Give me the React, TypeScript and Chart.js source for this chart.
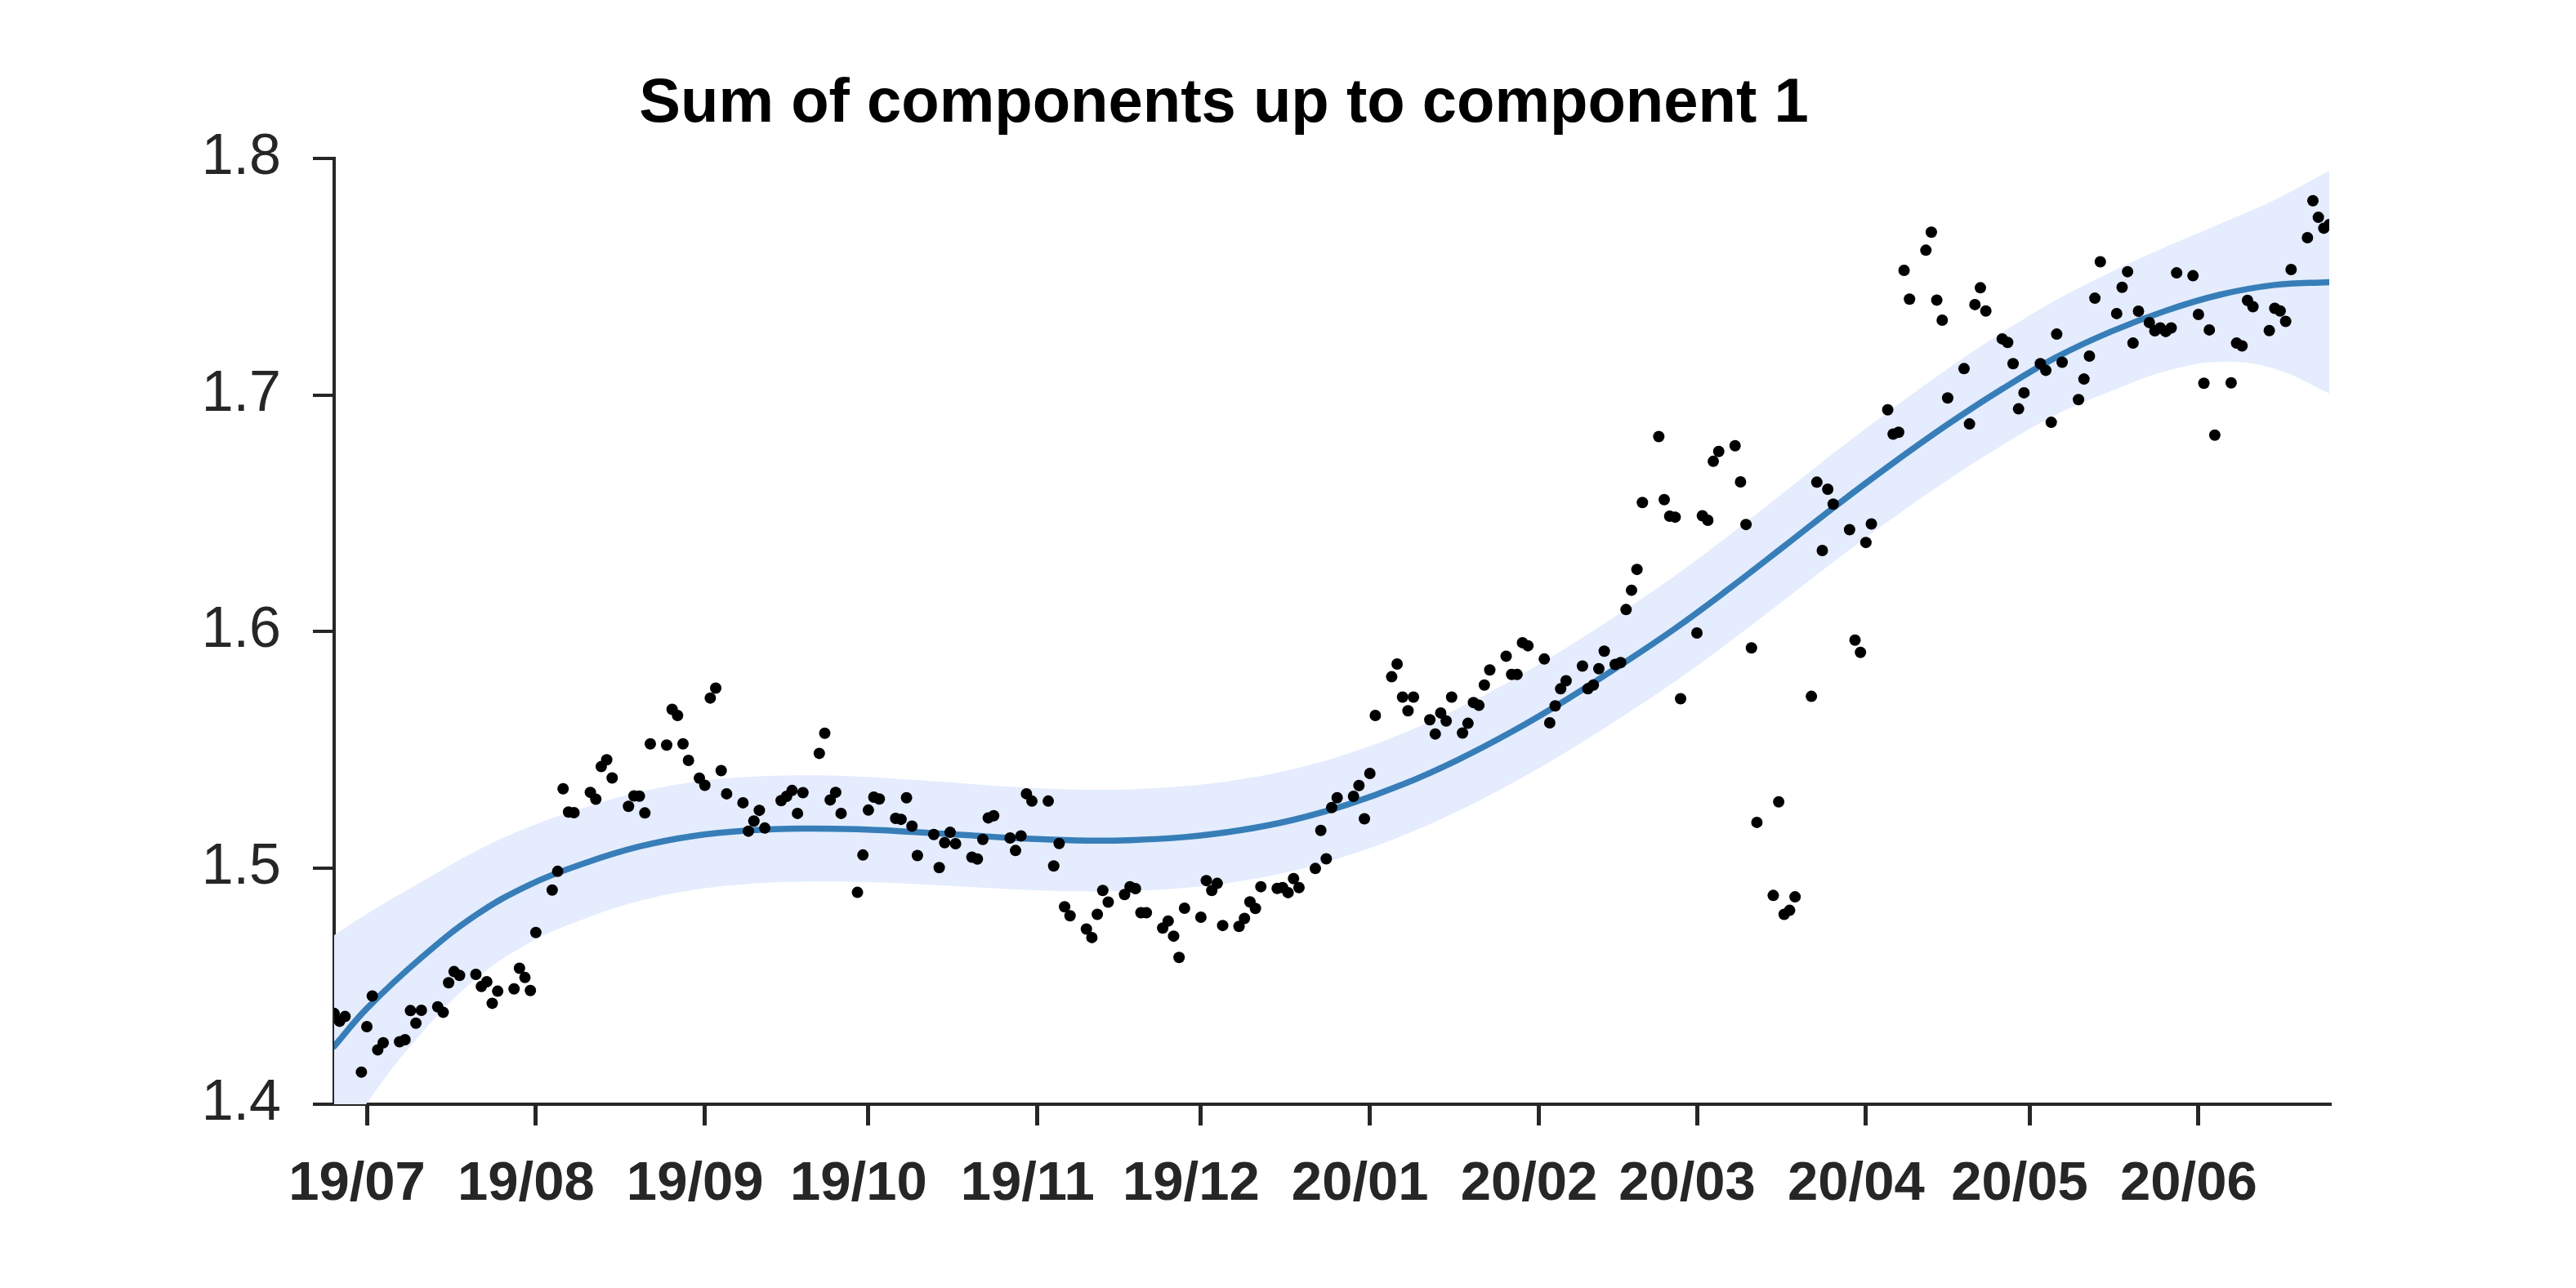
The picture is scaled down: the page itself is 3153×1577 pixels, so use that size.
import React, { useEffect, useRef } from 'react';
import { Chart, registerables } from 'chart.js';

Chart.register(...registerables);

// Day offsets are counted from 2019-07-01 (offset 0).
const START_DATE = '2019-07-01';

const observedDays = [
  -6, -5, -4, -1, 0, 1, 2, 3, 6, 7, 8, 9, 10, 13, 14, 15, 16, 17, 20, 21, 22, 23, 24,
  27, 28, 29, 30, 31, 34, 35, 36, 37, 38, 41, 42, 43, 44, 45, 48, 49, 50, 51, 52,
  55, 56, 57, 58, 59, 61, 62, 63, 64, 65, 66, 69, 70, 71, 72, 73, 76, 77, 78, 79, 80,
  83, 84, 85, 86, 87, 90, 91, 92, 93, 94, 97, 98, 99, 100, 101, 104, 105, 106, 107, 108,
  111, 112, 113, 114, 115, 118, 119, 120, 121, 122, 125, 126, 127, 128, 129,
  132, 133, 134, 135, 136, 139, 140, 141, 142, 143, 146, 147, 148, 149, 150,
  153, 154, 155, 156, 157, 160, 161, 162, 163, 164, 167, 168, 169, 170, 171,
  174, 175, 176, 177, 178, 181, 182, 183, 184, 185, 188, 189, 190, 191, 192,
  195, 196, 197, 198, 199, 201, 202, 203, 204, 205, 206, 209, 210, 211, 212, 213,
  216, 217, 218, 219, 220, 223, 224, 225, 226, 227, 229, 230, 231, 232, 233, 234,
  237, 238, 239, 240, 241, 244, 245, 246, 247, 248, 251, 252, 253, 254, 255,
  258, 259, 260, 261, 262, 265, 266, 267, 268, 269, 272, 273, 274, 275, 276,
  279, 280, 281, 282, 283, 286, 287, 288, 289, 290, 293, 294, 295, 296, 297,
  300, 301, 302, 303, 304, 307, 308, 309, 310, 311, 314, 315, 316, 317, 318,
  321, 322, 323, 324, 325, 327, 328, 329, 330, 331, 332, 335, 336, 337, 338, 339,
  342, 343, 344, 345, 346, 349, 350, 351, 352, 353, 356, 357, 358, 359, 360,
];

const observedValues = [
  1.4384, 1.4351, 1.4371, 1.4136, 1.4328, 1.4458, 1.4230, 1.4260, 1.4264, 1.4273, 1.4396, 1.4343, 1.4397,
  1.4412, 1.4389, 1.4514, 1.4561, 1.4545, 1.4549, 1.4498, 1.4518, 1.4427, 1.4478,
  1.4488, 1.4575, 1.4536, 1.4481, 1.4726, 1.4906, 1.4985, 1.5334, 1.5236, 1.5233,
  1.5319, 1.5290, 1.5428, 1.5457, 1.5380, 1.5260, 1.5304, 1.5303, 1.5232, 1.5524,
  1.5519, 1.5670, 1.5644, 1.5524, 1.5454, 1.5379, 1.5349, 1.5718, 1.5760, 1.5411, 1.5313,
  1.5275, 1.5155, 1.5198, 1.5243, 1.5168, 1.5284, 1.5302, 1.5327, 1.5230, 1.5318,
  1.5484, 1.5569, 1.5287, 1.5319, 1.5230, 1.4896, 1.5054, 1.5244, 1.5299, 1.5291,
  1.5209, 1.5205, 1.5296, 1.5176, 1.5052, 1.5141, 1.5001, 1.5106, 1.5150, 1.5102,
  1.5045, 1.5037, 1.5120, 1.5211, 1.5220, 1.5126, 1.5073, 1.5135, 1.5313, 1.5282,
  1.5282, 1.5008, 1.5103, 1.4835, 1.4797, 1.4741, 1.4705, 1.4803, 1.4904, 1.4855,
  1.4887, 1.4920, 1.4912, 1.4810, 1.4810, 1.4745, 1.4775, 1.4711, 1.4621, 1.4829,
  1.4791, 1.4946, 1.4904, 1.4934, 1.4756, 1.4752, 1.4786, 1.4856, 1.4828, 1.4920,
  1.4913, 1.4916, 1.4895, 1.4954, 1.4916, 1.4997, 1.5158, 1.5038, 1.5255, 1.5296,
  1.5302, 1.5348, 1.5207, 1.5399, 1.5644, 1.5808, 1.5862, 1.5722, 1.5664, 1.5722,
  1.5626, 1.5566, 1.5655, 1.5621, 1.5722, 1.5570, 1.5611, 1.5699, 1.5687, 1.5773, 1.5837,
  1.5895, 1.5818, 1.5818, 1.5952, 1.5939, 1.5883, 1.5613, 1.5685, 1.5757, 1.5791,
  1.5853, 1.5757, 1.5773, 1.5842, 1.5916, 1.5860, 1.5868, 1.6092, 1.6174, 1.6262, 1.6545,
  1.6824, 1.6557, 1.6487, 1.6483, 1.5715, 1.5993, 1.6489, 1.6470, 1.6719, 1.6761,
  1.6785, 1.6632, 1.6452, 1.5930, 1.5192, 1.4883, 1.5279, 1.4803, 1.4820, 1.4877,
  1.5725, 1.6631, 1.6342, 1.6601, 1.6538, 1.6430, 1.5963, 1.5911, 1.6376, 1.6454,
  1.6937, 1.6834, 1.6842, 1.7527, 1.7405, 1.7612, 1.7688, 1.7401, 1.7316, 1.6987,
  1.7111, 1.6877, 1.7382, 1.7453, 1.7355, 1.7237, 1.7222, 1.7132, 1.6941, 1.7009,
  1.7132, 1.7104, 1.6884, 1.7257, 1.7138, 1.6980, 1.7067, 1.7164, 1.7409, 1.7563,
  1.7344, 1.7455, 1.7521, 1.7219, 1.7354, 1.7306, 1.7271, 1.7283, 1.7268, 1.7283, 1.7516,
  1.7504, 1.7340, 1.7049, 1.7275, 1.6830, 1.7051, 1.7219, 1.7207, 1.7400, 1.7373,
  1.7272, 1.7366, 1.7355, 1.7311, 1.7530, 1.7665, 1.7821, 1.7751, 1.7705, 1.7720,
];

const curveDays = [
  -6, 0, 10, 20, 30, 40, 50, 60, 70, 80, 90, 100, 110, 120, 130, 140, 150, 160, 170,
  180, 190, 200, 210, 220, 230, 240, 250, 260, 270, 280, 290, 300, 310, 320, 330, 340, 350, 360,
];

const trendValues = [
  1.4245, 1.4405, 1.4620, 1.4800, 1.4930, 1.5020, 1.5090, 1.5135, 1.5158, 1.5166, 1.5163,
  1.5152, 1.5138, 1.5124, 1.5116, 1.5117, 1.5130, 1.5158, 1.5203, 1.5268, 1.5352, 1.5455,
  1.5575, 1.5710, 1.5857, 1.6012, 1.6182, 1.6360, 1.6540, 1.6712, 1.6875, 1.7025, 1.7160,
  1.7268, 1.7356, 1.7424, 1.7465, 1.7477,
];

const bandUpper = [
  1.4715, 1.4805, 1.4940, 1.5070, 1.5175, 1.5255, 1.5320, 1.5363, 1.5384, 1.5391, 1.5386,
  1.5372, 1.5356, 1.5340, 1.5331, 1.5332, 1.5345, 1.5373, 1.5418, 1.5483, 1.5568, 1.5672,
  1.5793, 1.5930, 1.6079, 1.6236, 1.6408, 1.6588, 1.6770, 1.6944, 1.7110, 1.7263, 1.7402,
  1.7520, 1.7626, 1.7724, 1.7825, 1.7947,
];

const bandLower = [
  1.3775, 1.4005, 1.4300, 1.4530, 1.4685, 1.4785, 1.4860, 1.4907, 1.4932, 1.4941, 1.4940,
  1.4932, 1.4920, 1.4908, 1.4901, 1.4902, 1.4915, 1.4943, 1.4988, 1.5053, 1.5136, 1.5238,
  1.5357, 1.5490, 1.5635, 1.5788, 1.5956, 1.6132, 1.6310, 1.6480, 1.6640, 1.6787, 1.6918,
  1.7016, 1.7100, 1.7140, 1.7110, 1.7007,
];

const monthTickDates = [
  '2019-07-01', '2019-08-01', '2019-09-01', '2019-10-01', '2019-11-01', '2019-12-01',
  '2020-01-01', '2020-02-01', '2020-03-01', '2020-04-01', '2020-05-01', '2020-06-01',
];
const monthTickLabels = [
  '19/07', '19/08', '19/09', '19/10', '19/11', '19/12',
  '20/01', '20/02', '20/03', '20/04', '20/05', '20/06',
];
const yTickValues = [1.4, 1.5, 1.6, 1.7, 1.8];
const X_MIN_DAY = -6;
const X_MAX_DAY = 360;
const TITLE = 'Sum of components up to component 1';

const DAY_MS = 86400000;
const toUtc = (s: string) => {
  const [y, m, d] = s.split('-').map(Number);
  return Date.UTC(y, m - 1, d);
};
const monthTickDays = monthTickDates.map((s) => Math.round((toUtc(s) - toUtc(START_DATE)) / DAY_MS));

const AXIS_COLOR = '#262626';
const FONT = '"Liberation Sans", Arial, Helvetica, sans-serif';

export default function App() {
  const canvasRef = useRef<HTMLCanvasElement | null>(null);

  useEffect(() => {
    document.body.style.margin = '0';
    document.body.style.overflow = 'hidden';
    const canvas = canvasRef.current;
    if (!canvas) return;

    const bgPlugin = {
      id: 'whiteBg',
      beforeDraw(chart: any) {
        const { ctx, width, height } = chart;
        ctx.save();
        ctx.fillStyle = '#ffffff';
        ctx.fillRect(0, 0, width, height);
        ctx.restore();
      },
    };
    const titlePlugin = {
      id: 'manualTitle',
      afterDraw(chart: any) {
        const ctx = chart.ctx;
        ctx.save();
        ctx.font = `bold 76px ${FONT}`;
        ctx.fillStyle = '#000000';
        ctx.textAlign = 'center';
        ctx.textBaseline = 'middle';
        ctx.fillText(TITLE, 1498, 128);
        ctx.restore();
      },
    };

    const chart = new Chart(canvas, {
      type: 'line',
      data: {
        datasets: [
          {
            type: 'scatter',
            label: 'observed',
            data: observedDays.map((d, i) => ({ x: d, y: observedValues[i] })),
            pointRadius: 7,
            pointBackgroundColor: '#000000',
            pointBorderWidth: 0,
            showLine: false,
            order: 0,
          } as any,
          {
            label: 'trend',
            data: curveDays.map((d, i) => ({ x: d, y: trendValues[i] })),
            borderColor: '#377eb8',
            borderWidth: 7.5,
            borderCapStyle: 'round',
            pointRadius: 0,
            tension: 0.4,
            fill: false,
            order: 1,
          },
          {
            label: 'upper',
            data: curveDays.map((d, i) => ({ x: d, y: bandUpper[i] })),
            borderWidth: 0,
            borderColor: 'rgba(0,0,0,0)',
            backgroundColor: '#e4ecfd',
            pointRadius: 0,
            tension: 0.4,
            fill: '+1',
            order: 2,
          },
          {
            label: 'lower',
            data: curveDays.map((d, i) => ({ x: d, y: bandLower[i] })),
            borderWidth: 0,
            borderColor: 'rgba(0,0,0,0)',
            pointRadius: 0,
            tension: 0.4,
            fill: false,
            order: 3,
          },
        ],
      },
      options: {
        responsive: false,
        animation: false,
        events: [],
        layout: { padding: { left: 0, right: 302, top: 194, bottom: 0 } },
        plugins: {
          legend: { display: false },
          tooltip: { enabled: false },
          title: { display: false },
        },
        scales: {
          x: {
            type: 'linear',
            min: X_MIN_DAY,
            max: X_MAX_DAY,
            afterBuildTicks: (scale: any) => {
              scale.ticks = monthTickDays.map((v) => ({ value: v }));
            },
            afterFit: (scale: any) => {
              scale.height = 225;
            },
            ticks: {
              autoSkip: false,
              maxRotation: 0,
              padding: 32,
              labelOffset: -12,
              color: AXIS_COLOR,
              font: { family: FONT, size: 67, weight: 'bold' },
              callback: (value: any) => {
                const idx = monthTickDays.indexOf(Number(value));
                return idx >= 0 ? monthTickLabels[idx] : '';
              },
            },
            grid: {
              drawOnChartArea: false,
              drawTicks: true,
              tickLength: 26,
              color: AXIS_COLOR,
              lineWidth: 5,
            },
            border: { display: true, color: AXIS_COLOR, width: 4 },
          },
          y: {
            type: 'linear',
            min: 1.4,
            max: 1.8,
            afterBuildTicks: (scale: any) => {
              scale.ticks = yTickValues.map((v) => ({ value: v }));
            },
            afterFit: (scale: any) => {
              scale.width = 409;
            },
            ticks: {
              padding: 39,
              color: AXIS_COLOR,
              font: { family: FONT, size: 70 },
              callback: (value: any) => Number(value).toFixed(1),
            },
            grid: {
              drawOnChartArea: false,
              drawTicks: true,
              tickLength: 26,
              color: AXIS_COLOR,
              lineWidth: 4,
            },
            border: { display: true, color: AXIS_COLOR, width: 4 },
          },
        },
      } as any,
      plugins: [bgPlugin, titlePlugin],
    });

    return () => {
      chart.destroy();
    };
  }, []);

  return (
    <div style={{ position: 'fixed', left: 0, top: 0, width: 3153, height: 1577, background: '#fff' }}>
      <canvas ref={canvasRef} width={3153} height={1577} style={{ display: 'block', width: 3153, height: 1577 }} />
    </div>
  );
}
